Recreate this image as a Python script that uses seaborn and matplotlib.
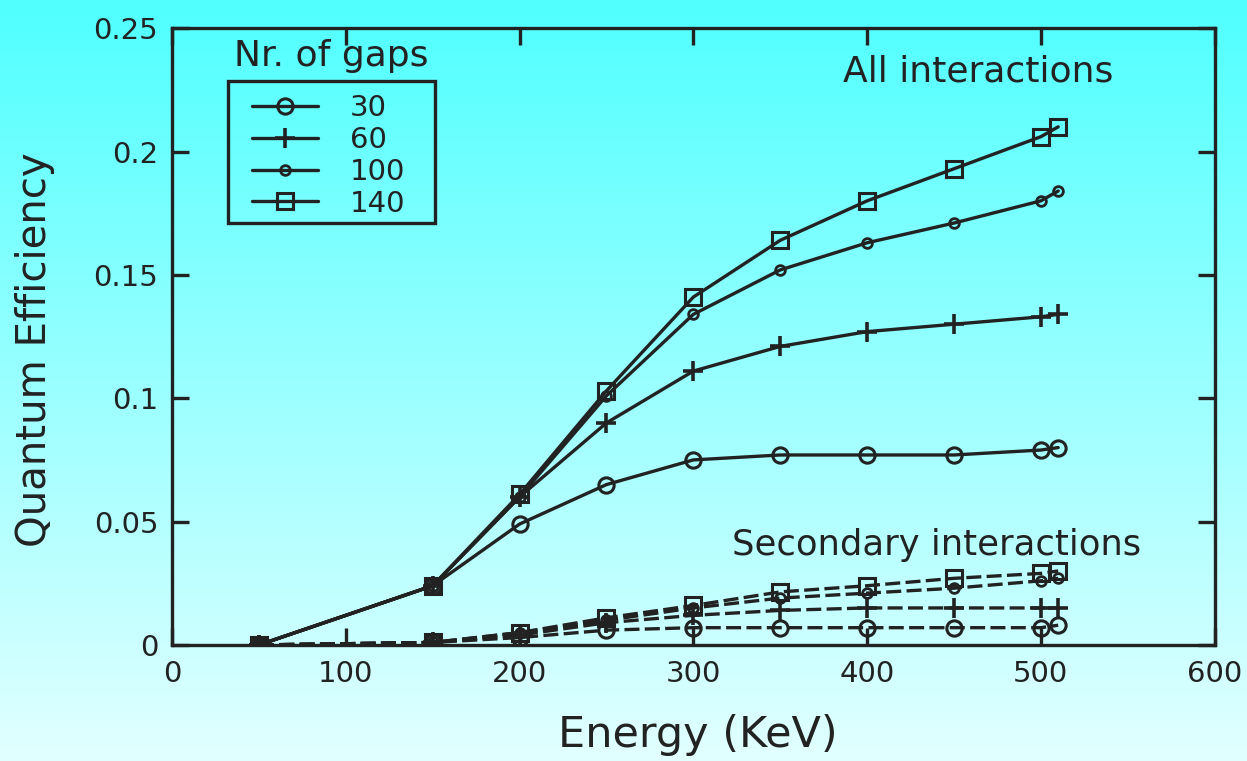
import numpy as np
import pandas as pd
import matplotlib
matplotlib.use("Agg")
import matplotlib.pyplot as plt
from matplotlib.patches import Rectangle
import seaborn as sns

# ---------------- data ----------------
energy = [50, 150, 200, 250, 300, 350, 400, 450, 500, 510]
gaps = ["30", "60", "100", "140"]

all_30 = [0.0, 0.024, 0.049, 0.065, 0.075, 0.077, 0.077, 0.077, 0.079, 0.080]
all_60 = [0.0, 0.024, 0.060, 0.090, 0.111, 0.121, 0.127, 0.130, 0.133, 0.134]
all_100 = [0.0, 0.024, 0.060, 0.101, 0.134, 0.152, 0.163, 0.171, 0.180, 0.184]
all_140 = [0.0, 0.024, 0.061, 0.103, 0.141, 0.164, 0.180, 0.193, 0.206, 0.210]

sec_30 = [0.0, 0.001, 0.003, 0.006, 0.007, 0.007, 0.007, 0.007, 0.007, 0.008]
sec_60 = [0.0, 0.001, 0.004, 0.009, 0.012, 0.014, 0.015, 0.015, 0.015, 0.015]
sec_100 = [0.0, 0.001, 0.005, 0.010, 0.015, 0.019, 0.021, 0.023, 0.026, 0.027]
sec_140 = [0.0, 0.001, 0.005, 0.011, 0.016, 0.0215, 0.024, 0.027, 0.029, 0.030]

x_ticks = [0, 100, 200, 300, 400, 500, 600]
y_ticks = [0, 0.05, 0.1, 0.15, 0.2, 0.25]
y_tick_labels = ["0", "0.05", "0.1", "0.15", "0.2", "0.25"]

# ---------------- style ----------------
sns.set_style("ticks")
plt.rcParams["font.family"] = ["DejaVu Sans"]
INK = "#222222"
LW = 2.4

all_series = [all_30, all_60, all_100, all_140]
sec_series = [sec_30, sec_60, sec_100, sec_140]
marker_kw = [
    dict(marker="o", markersize=11, markerfacecolor="none", markeredgewidth=2.2),
    dict(marker="+", markersize=14, markeredgewidth=2.6),
    dict(marker="o", markersize=7, markerfacecolor="none", markeredgewidth=2.0),
    dict(marker="s", markersize=11, markerfacecolor="none", markeredgewidth=2.2),
]

fig = plt.figure(figsize=(12.47, 7.61), dpi=100)

# gradient background
bg = fig.add_axes([0, 0, 1, 1], zorder=-10)
rows = 256
r = np.linspace(80, 226, rows) / 255.0
grad = np.zeros((rows, 2, 3))
grad[:, :, 0] = r[:, None]
grad[:, :, 1] = 1.0
grad[:, :, 2] = 1.0
bg.imshow(grad, aspect="auto", extent=[0, 1, 0, 1], origin="upper")
bg.set_axis_off()

ax = fig.add_axes([0.138, 0.1525, 0.836, 0.8105])
ax.patch.set_alpha(0)

handles = []
for g, ys, mk in zip(gaps, all_series, marker_kw):
    df = pd.DataFrame({"Energy": energy, "QE": ys})
    sns.lineplot(data=df, x="Energy", y="QE", ax=ax, color=INK, linewidth=LW,
                 markeredgecolor=INK, legend=False, **mk)
    handles.append(ax.get_lines()[-1])

for g, ys, mk in zip(gaps, sec_series, marker_kw):
    df = pd.DataFrame({"Energy": energy, "QE": ys})
    sns.lineplot(data=df, x="Energy", y="QE", ax=ax, color=INK, linewidth=LW,
                 linestyle=(0, (4.5, 1.6)), markeredgecolor=INK, legend=False, **mk)

ax.set_xlim(0, 600)
ax.set_ylim(0, 0.25)
ax.set_xticks(x_ticks)
ax.set_xticklabels([str(t) for t in x_ticks])
ax.set_yticks(y_ticks)
ax.set_yticklabels(y_tick_labels)
ax.tick_params(axis="both", direction="in", length=12, width=LW, color=INK,
               top=True, right=True, labelcolor=INK)
ax.tick_params(axis="x", labelsize=21, pad=11)
ax.tick_params(axis="y", labelsize=21, pad=10)
for s in ax.spines.values():
    s.set_visible(True)
    s.set_linewidth(LW)
    s.set_color(INK)

ax.set_xlabel("Energy (KeV)", fontsize=31, color=INK)
ax.xaxis.label.set_va("baseline")
ax.xaxis.set_label_coords(0.504, -0.166)
ax.set_ylabel("Quantum Efficiency", fontsize=29, color=INK)
ax.yaxis.set_label_coords(-0.112, 0.478)

ax.text(386, 0.2285, "All interactions", fontsize=26, color=INK)
ax.text(322, 0.0365, "Secondary interactions", fontsize=25.5, color=INK)
ax.text(0.059, 0.938, "Nr. of gaps", transform=ax.transAxes, fontsize=26, color=INK)

leg = ax.legend(handles, gaps, loc="upper left", bbox_to_anchor=(0.0767, 0.893),
                borderaxespad=0, borderpad=0, fontsize=21, numpoints=1,
                handlelength=2.25, handletextpad=1.1, labelspacing=0.13,
                frameon=False)
for t in leg.get_texts():
    t.set_color(INK)
ax.add_patch(Rectangle((0.0537, 0.684), 0.1985, 0.230, transform=ax.transAxes,
                       fill=False, edgecolor=INK, linewidth=LW, zorder=5))

fig.savefig("out.png", dpi=100)
